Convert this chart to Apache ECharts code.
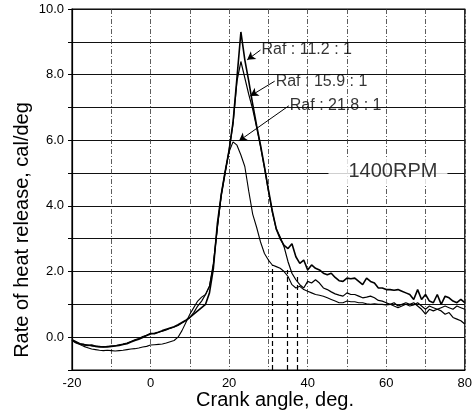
<!DOCTYPE html>
<html>
<head>
<meta charset="utf-8">
<script src="https://cdn.jsdelivr.net/npm/echarts@6/dist/echarts.min.js"></script>
<style>
html,body{margin:0;padding:0;background:#fff;}
#chart{width:475px;height:417px;}
</style>
</head>
<body>
<div id="chart"></div>
<script>
// Crank angle, deg.
const angles = [
 -20,-19,-18,-17,-16,-15,-14,-13,-12,-11,
 -10,-9,-8,-7,-6,-5,-4,-3,-2,-1,
 0,1,2,3,4,5,6,7,8,9,
 10,11,12,13,14,15,16,17,18,19,
 20,21,22,23,24,25,26,27,28,29,
 30,31,32,33,34,35,36,37,38,39,
 40,41,42,43,44,45,46,47,48,49,
 50,51,52,53,54,55,56,57,58,59,
 60,61,62,63,64,65,66,67,68,69,
 70,71,72,73,74,75,76,77,78,79,
 80
];
// Rate of heat release, cal/deg
const rhr112 = [
 -0.08,-0.14,-0.20,-0.22,-0.25,-0.24,-0.28,-0.30,-0.29,-0.30,
 -0.28,-0.27,-0.25,-0.22,-0.20,-0.15,-0.10,-0.06,-0.01,0.05,
 0.10,0.12,0.15,0.20,0.24,0.28,0.32,0.38,0.45,0.52,
 0.60,0.70,0.80,0.90,1.00,1.35,2.10,3.45,4.35,5.05,
 5.70,6.55,7.90,9.30,8.45,7.80,7.10,6.45,5.85,5.20,
 4.50,3.85,3.30,3.00,2.80,2.70,2.85,2.45,2.25,2.35,
 2.05,2.20,2.10,2.05,1.95,1.90,1.95,1.82,1.72,1.70,
 1.80,1.78,1.80,1.70,1.60,1.80,1.70,1.65,1.50,1.50,
 1.45,1.45,1.43,1.45,1.40,1.35,1.30,1.15,1.45,1.15,
 1.30,1.10,1.05,1.30,1.00,1.25,1.20,1.10,1.05,1.15,
 1.05
];
const rhr159 = [
 -0.10,-0.16,-0.20,-0.24,-0.24,-0.27,-0.27,-0.28,-0.30,-0.28,
 -0.27,-0.26,-0.23,-0.21,-0.18,-0.13,-0.08,-0.04,0.02,0.06,
 0.12,0.10,0.15,0.18,0.22,0.27,0.31,0.36,0.43,0.50,
 0.60,0.75,0.95,1.10,1.30,1.55,2.25,3.35,4.30,5.00,
 5.70,6.50,7.80,8.40,7.90,7.40,6.95,6.40,5.80,5.15,
 4.45,3.80,3.30,3.05,2.75,2.30,1.95,1.75,1.60,1.50,
 1.70,1.65,1.75,1.65,1.50,1.45,1.38,1.32,1.28,1.25,
 1.35,1.30,1.30,1.25,1.20,1.22,1.25,1.20,1.12,1.10,
 1.05,1.00,1.05,0.95,1.00,1.05,1.00,1.05,0.95,0.85,
 0.70,0.85,0.80,0.85,0.80,0.70,0.75,0.60,0.55,0.50,
 0.40
];
const rhr218 = [
 -0.10,-0.18,-0.22,-0.28,-0.32,-0.36,-0.38,-0.40,-0.41,-0.40,
 -0.41,-0.42,-0.41,-0.40,-0.38,-0.36,-0.35,-0.33,-0.30,-0.28,
 -0.24,-0.23,-0.22,-0.21,-0.18,-0.14,-0.10,0.00,0.20,0.45,
 0.70,0.90,1.10,1.22,1.30,1.55,2.20,3.30,4.35,5.05,
 5.65,5.95,5.85,5.55,5.20,4.45,3.75,3.35,2.90,2.55,
 2.35,2.20,2.15,2.10,2.00,1.85,1.60,1.50,1.55,1.45,
 1.40,1.35,1.30,1.28,1.25,1.20,1.15,1.10,1.05,1.05,
 1.10,1.08,1.08,1.05,1.05,1.02,1.00,1.02,1.00,1.00,
 0.98,1.00,0.95,0.90,0.95,1.00,0.95,0.98,1.05,0.95,
 0.85,0.95,0.90,0.85,0.90,0.95,0.90,0.85,0.95,0.90,
 0.85
];
// end-of-combustion markers (dashed verticals)
const endAngles = [31.0, 34.8, 37.3];
const endValues = [2.2, 2.05, 1.85];
// annotations
const annoTexts = ['Raf : 11.2 : 1', 'Raf : 15.9 : 1', 'Raf : 21.8 : 1'];
const annoStart = [[28.0, 8.75], [31.6, 7.8], [35.2, 7.05]];
const annoTip = [[24.6, 8.45], [25.4, 7.35], [22.5, 5.98]];
const rpmText = '1400RPM';
const rpmPos = [45.3, 5.05];
const xTickLabels = [-20, 0, 20, 40, 60, 80];
const yTickLabels = [0, 2, 4, 6, 8, 10];

const FONT = "'Liberation Sans', Arial, Helvetica, sans-serif";
const zip = (xs, ys) => xs.map((x, i) => [x, ys[i]]);

const chart = echarts.init(document.getElementById('chart'), null, {renderer: 'canvas'});
const curveStyle = (w) => ({ type: 'line', showSymbol: false, symbol: 'none', animation: false,
  lineStyle: { color: '#000', width: w }, z: 5 });

const option = {
  animation: false,
  backgroundColor: '#fff',
  grid: { left: 72, right: 8, top: 9, bottom: 47, show: true, borderColor: '#000', borderWidth: 1.2, backgroundColor: 'transparent' },
  xAxis: {
    type: 'value', min: -20, max: 80, interval: 10,
    axisLine: { show: true, onZero: false, lineStyle: { color: '#000', width: 1.2 } },
    axisTick: { show: false },
    axisLabel: { color: '#000', fontFamily: FONT, fontSize: 13, margin: 7,
      formatter: v => xTickLabels.indexOf(v) >= 0 ? String(v) : '' },
    splitLine: { show: true, lineStyle: { color: '#333', width: 0.8, type: [5, 2, 1, 2] } }
  },
  yAxis: {
    type: 'value', min: -1, max: 10, interval: 1,
    axisLine: { show: true, onZero: false, lineStyle: { color: '#000', width: 1.2 } },
    axisTick: { show: true, length: 4, lineStyle: { color: '#000' } },
    axisLabel: { color: '#000', fontFamily: FONT, fontSize: 13, margin: 8,
      formatter: v => yTickLabels.indexOf(v) >= 0 ? v.toFixed(1) : '' },
    splitLine: { show: true, lineStyle: { color: '#111', width: 1.2 } }
  },
  graphic: [
    { type: 'text', x: 22, y: 230, rotation: Math.PI / 2,
      style: { text: 'Rate of heat release, cal/deg', font: '20px ' + FONT, fill: '#000',
        textAlign: 'center', textVerticalAlign: 'middle' } },
    { type: 'text', x: 275, y: 400,
      style: { text: 'Crank angle, deg.', font: '20px ' + FONT, fill: '#000',
        textAlign: 'center', textVerticalAlign: 'middle' } }
  ],
  series: [
    Object.assign(curveStyle(1.6), { name: 'Raf 11.2', data: zip(angles, rhr112) }),
    Object.assign(curveStyle(1.2), { name: 'Raf 15.9', data: zip(angles, rhr159) }),
    Object.assign(curveStyle(1.1), { name: 'Raf 21.8', data: zip(angles, rhr218) }),
    {
      type: 'line', data: [], silent: true,
      markLine: {
        silent: true, symbol: ['none', 'none'], animation: false,
        label: { show: false },
        lineStyle: { color: '#000', width: 1.2, type: [5, 3] },
        data: endAngles.map((a, i) => [{ coord: [a, -1] }, { coord: [a, endValues[i]] }])
      }
    },
    {
      type: 'line', data: [], silent: true,
      markLine: {
        silent: true, animation: false, symbol: ['none', 'arrow'], symbolSize: [7, 8],
        label: { show: false },
        lineStyle: { color: '#000', width: 1, type: 'solid' },
        data: annoStart.map((s, i) => [{ coord: s }, { coord: annoTip[i] }])
      }
    },
    {
      type: 'scatter', symbolSize: 0, silent: true, z: 6,
      data: annoStart.map((s, i) => ({ value: s, name: annoTexts[i] })),
      label: { show: true, position: 'right', distance: 1, color: '#000',
        fontFamily: FONT, fontSize: 16, formatter: p => p.name }
    },
    {
      type: 'scatter', symbolSize: 0, silent: true, z: 6,
      data: [{ value: rpmPos, name: rpmText }],
      label: { show: true, position: 'right', distance: 0, color: '#000',
        backgroundColor: '#fff', padding: [3, 10, 3, 20],
        fontFamily: FONT, fontSize: 20, formatter: p => p.name }
    }
  ]
};
chart.setOption(option);
</script>
</body>
</html>
